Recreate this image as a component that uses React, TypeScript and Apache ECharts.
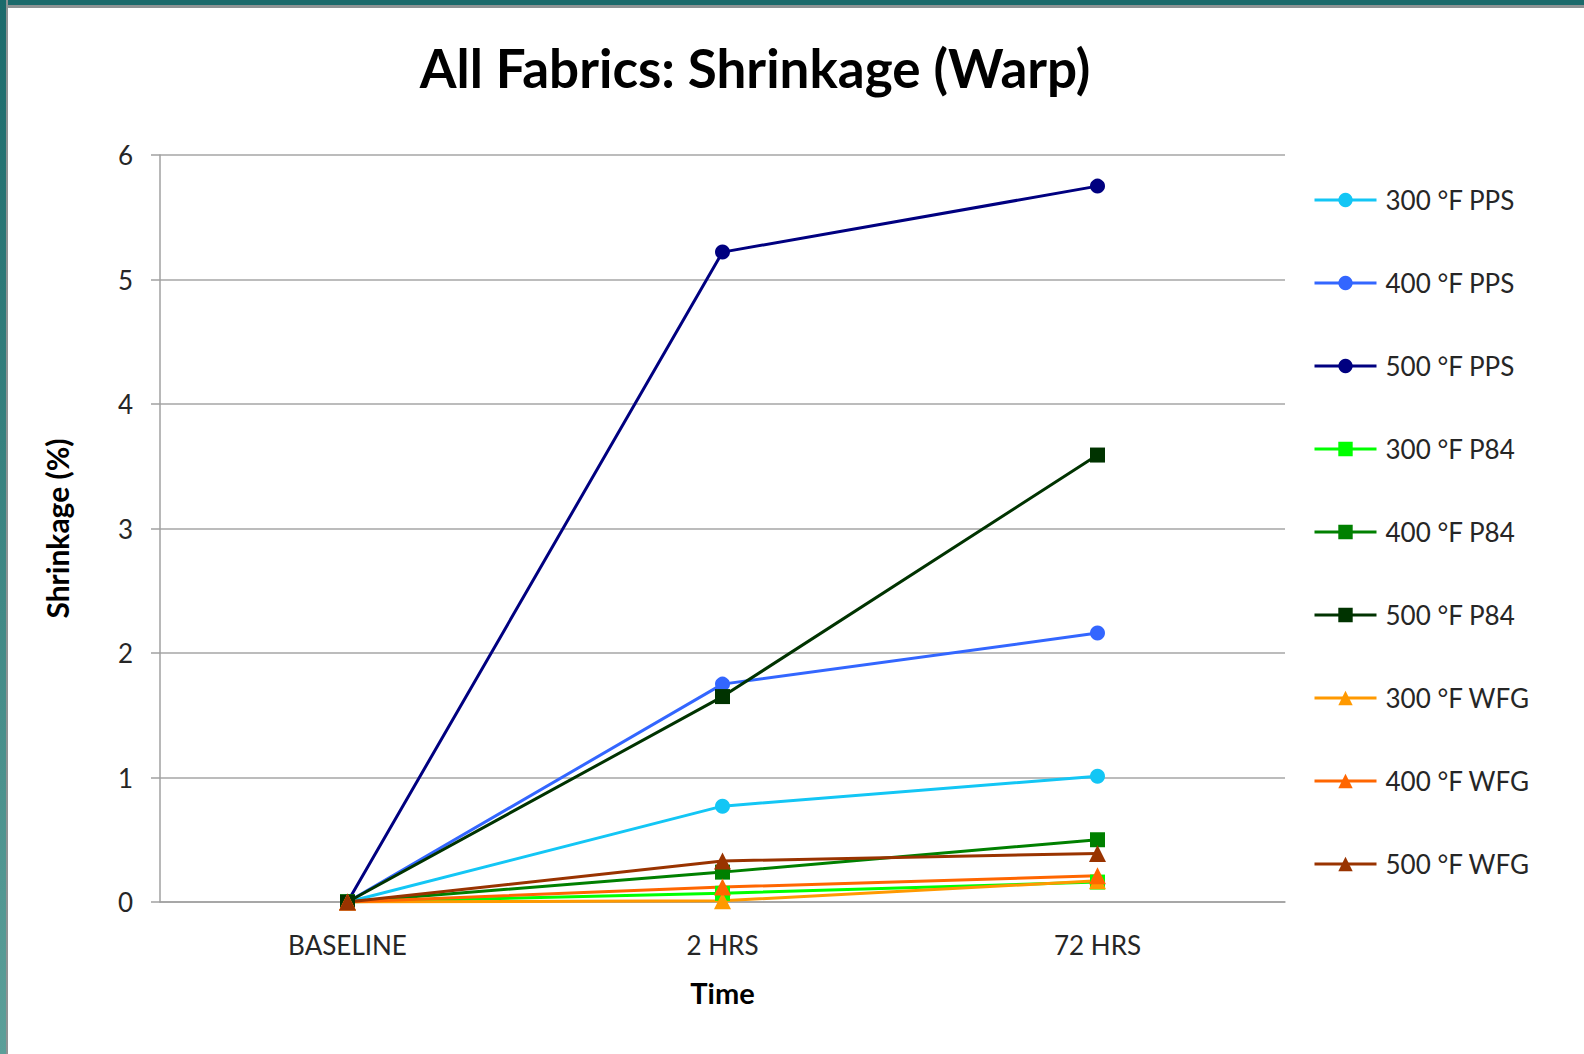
import React, { useEffect, useRef } from "react";
import * as echarts from "echarts";

// Sampling points along the x axis
const timePoints = ["BASELINE", "2 HRS", "72 HRS"];

// Warp shrinkage (%) per fabric / exposure temperature
const pps300 = [0, 0.77, 1.01];
const pps400 = [0, 1.75, 2.16];
const pps500 = [0, 5.22, 5.75];
const p84300 = [0, 0.07, 0.16];
const p84400 = [0, 0.24, 0.5];
const p84500 = [0, 1.65, 3.59];
const wfg300 = [0, 0.01, 0.17];
const wfg400 = [0, 0.12, 0.21];
const wfg500 = [0, 0.33, 0.39];

const seriesNames = [
  "300 °F PPS",
  "400 °F PPS",
  "500 °F PPS",
  "300 °F P84",
  "400 °F P84",
  "500 °F P84",
  "300 °F WFG",
  "400 °F WFG",
  "500 °F WFG",
];
const seriesValues = [pps300, pps400, pps500, p84300, p84400, p84500, wfg300, wfg400, wfg500];
const seriesColors = [
  "#13C6F5",
  "#3366FF",
  "#000080",
  "#00FF00",
  "#008000",
  "#003300",
  "#FF9900",
  "#FF6600",
  "#993300",
];
const seriesSymbols = [
  "circle",
  "circle",
  "circle",
  "rect",
  "rect",
  "rect",
  "triangle",
  "triangle",
  "triangle",
];

const yTicks = { min: 0, max: 6, interval: 1 };

const FONT = "Lato, 'Open Sans', sans-serif";

export default function App() {
  const ref = useRef<HTMLDivElement>(null);

  useEffect(() => {
    document.body.style.margin = "0";
    if (!ref.current) return;
    const chart = echarts.init(ref.current, undefined, { renderer: "svg" });

    chart.setOption({
      animation: false,
      backgroundColor: "#ffffff",
      title: {
        text: "All Fabrics: Shrinkage (Warp)",
        left: 750,
        top: 36,
        textAlign: "center",
        textStyle: {
          fontFamily: FONT,
          fontSize: 53,
          fontWeight: "bold",
          color: "#000000",
        },
      },
      grid: { left: 160, right: 299, top: 155, bottom: 152, containLabel: false },
      legend: {
        orient: "vertical",
        left: 1308,
        top: 181,
        itemWidth: 62,
        itemHeight: 18,
        itemGap: 55,
        lineStyle: { width: 3 },
        textStyle: {
          fontFamily: FONT,
          fontSize: 26,
          lineHeight: 28,
          color: "#262626",
          padding: [0, 0, 0, 4],
        },
        data: seriesNames,
      },
      xAxis: {
        type: "category",
        data: timePoints,
        boundaryGap: true,
        name: "Time",
        nameLocation: "middle",
        nameGap: 76,
        nameTextStyle: { fontFamily: FONT, fontSize: 29, fontWeight: "bold", color: "#000" },
        axisLine: { lineStyle: { color: "#A0A0A0", width: 1.5 } },
        axisTick: { show: false },
        axisLabel: { fontFamily: FONT, fontSize: 26, color: "#262626", margin: 30 },
      },
      yAxis: {
        type: "value",
        min: yTicks.min,
        max: yTicks.max,
        interval: yTicks.interval,
        name: "Shrinkage (%)",
        nameLocation: "middle",
        nameGap: 88,
        nameTextStyle: { fontFamily: FONT, fontSize: 30, fontWeight: "bold", color: "#000" },
        axisLine: { show: true, lineStyle: { color: "#A0A0A0", width: 1.5 } },
        axisTick: { show: true, length: 9, lineStyle: { color: "#A0A0A0", width: 1.5 } },
        splitLine: { lineStyle: { color: "#A6A6A6", width: 1.5 } },
        axisLabel: { fontFamily: FONT, fontSize: 26, color: "#262626", margin: 27 },
      },
      series: seriesNames.map((name, i) => ({
        name,
        type: "line",
        data: seriesValues[i],
        symbol: seriesSymbols[i],
        symbolSize: seriesSymbols[i] === "triangle" ? 17 : 15,
        showAllSymbol: true,
        itemStyle: { color: seriesColors[i] },
        lineStyle: { color: seriesColors[i], width: 3 },
      })),
    });

    return () => chart.dispose();
  }, []);

  return (
    <div style={{ position: "relative", width: 1584, height: 1054, overflow: "hidden" }}>
      <div ref={ref} style={{ position: "absolute", left: 0, top: 0, width: 1584, height: 1054 }} />
      {/* slide frame: teal bands along top and left edges */}
      <div
        style={{
          position: "absolute",
          left: 0,
          top: 0,
          width: 1584,
          height: 5,
          background: "#1B6A6B",
          borderBottom: "3px solid #8E9394",
          pointerEvents: "none",
        }}
      />
      <div
        style={{
          position: "absolute",
          left: 0,
          top: 0,
          width: 6,
          height: 1054,
          background: "linear-gradient(#1B6A6B, #5C9F99)",
          borderRight: "2px solid #8E9394",
          pointerEvents: "none",
        }}
      />
    </div>
  );
}
